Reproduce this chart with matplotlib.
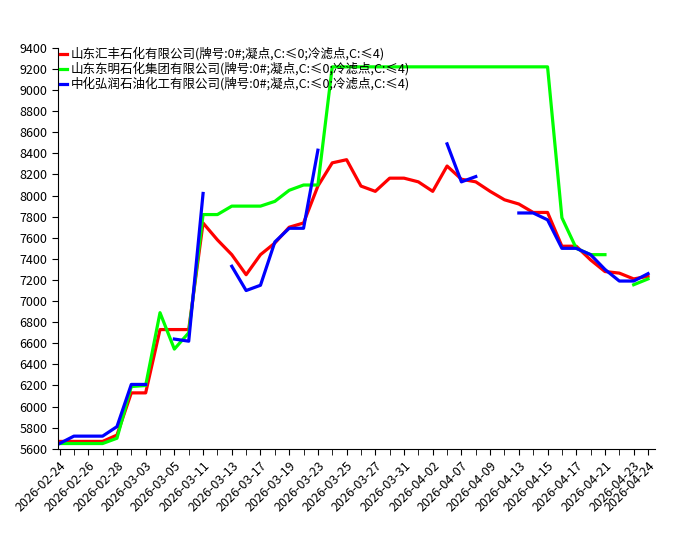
import matplotlib
matplotlib.use("Agg")
import matplotlib.pyplot as plt
import numpy as np

plt.rcParams['font.family'] = ['Noto Sans CJK SC', 'DejaVu Sans']

dates = ["2026-02-24","2026-02-25","2026-02-26","2026-02-27","2026-02-28","2026-03-02",
         "2026-03-03","2026-03-04","2026-03-05","2026-03-10","2026-03-11","2026-03-12",
         "2026-03-13","2026-03-16","2026-03-17","2026-03-18","2026-03-19","2026-03-20",
         "2026-03-23","2026-03-24","2026-03-25","2026-03-26","2026-03-27","2026-03-30",
         "2026-03-31","2026-04-01","2026-04-02","2026-04-03","2026-04-07","2026-04-08",
         "2026-04-09","2026-04-10","2026-04-13","2026-04-14","2026-04-15","2026-04-16",
         "2026-04-17","2026-04-20","2026-04-21","2026-04-22","2026-04-23","2026-04-24"]
N = None
red = [5670,5670,5670,5670,5730,6130,6130,6730,6730,6730,7740,7580,7440,7250,7440,7550,
       7700,7740,8090,8310,8340,8090,8040,8165,8165,8130,8040,8280,8155,8130,8040,7960,
       7920,7840,7840,7520,7520,7390,7280,7265,7210,7235]
green = [5650,5650,5650,5650,5700,6190,6200,6890,6545,6700,7820,7820,7900,7900,7900,7945,
         8050,8100,8100,9220,9220,9220,9220,9220,9220,9220,9220,9220,9220,9220,9220,9220,
         9220,9220,9220,7790,7500,7440,7440,N,7155,7210]
blue = [5650,5720,5720,5720,5810,6210,6210,N,6640,6620,8020,N,7330,7100,7150,7560,
        7690,7690,8430,N,N,N,N,N,N,N,N,8490,8130,8180,N,N,
        7835,7835,7770,7500,7500,7440,7300,7190,7190,7260]
names = ["山东汇丰石化有限公司(牌号:0#;凝点,C:≤0;冷滤点,C:≤4)",
         "山东东明石化集团有限公司(牌号:0#;凝点,C:≤0;冷滤点,C:≤4)",
         "中化弘润石油化工有限公司(牌号:0#;凝点,C:≤0;冷滤点,C:≤4)"]
colors = ["#ff0000", "#00ff00", "#0000ff"]

fig = plt.figure(figsize=(7, 5.5), dpi=100)
ax = fig.add_axes([0.083, 0.184, 0.853, 0.729])
x = np.arange(len(dates))
for ys, c, n in zip([red, green, blue], colors, names):
    arr = np.array([np.nan if v is None else v for v in ys], dtype=float)
    ax.plot(x, arr, color=c, lw=2.3, label=n)

ax.set_ylim(5600, 9400)
ax.set_yticks(np.arange(5600, 9401, 200))
ax.set_xlim(-0.1, 41.5)
ax.set_xticks(x, minor=True)
lab_idx = list(range(0, 41, 2)) + [41]
ax.set_xticks(lab_idx)
ax.set_xticklabels([dates[i] for i in lab_idx], rotation=45, ha='right', rotation_mode='anchor')
ax.tick_params(labelsize=9, direction='out', length=4)
ax.tick_params(which='minor', length=4)
for s in ['top', 'right']:
    ax.spines[s].set_visible(False)
leg = ax.legend(loc='upper left', bbox_to_anchor=(-0.01, 1.02), frameon=False, fontsize=9,
                handlelength=0.6, handleheight=0.6, handletextpad=0.3, labelspacing=0.1,
                borderaxespad=0.2)
fig.savefig("out.png", dpi=100)
